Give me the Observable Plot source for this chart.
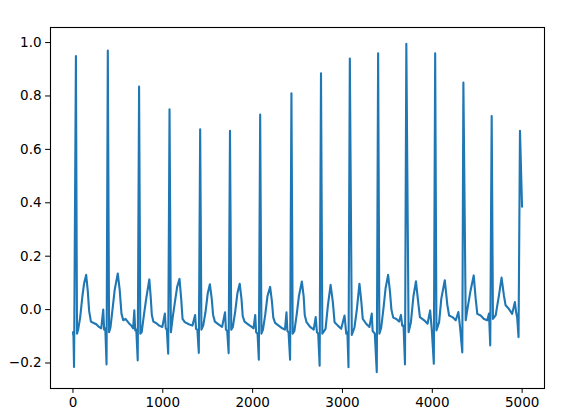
<!DOCTYPE html>
<html>
<head>
<meta charset="utf-8">
<script src="https://cdn.jsdelivr.net/npm/d3@7"></script>
<script src="https://cdn.jsdelivr.net/npm/@observablehq/plot@0.6"></script>
<style>
  html, body { margin: 0; padding: 0; background: #fff; }
  #chart svg { display: block; }
</style>
</head>
<body>
<div id="chart"></div>
<script>
// Trace vertices (sample index, amplitude)
const sampleIndex = [
  0, 6, 12, 33, 45, 58, 80, 105, 125, 147, 165, 180, 200, 230, 260, 290, 315, 337, 347, 360, 374, 388,
  402, 418, 440, 465, 499, 520, 540, 560, 585, 620, 650, 670, 683, 693, 705, 721, 736,
  750, 765, 790, 815, 850, 865, 878, 895, 925, 960, 995, 1023, 1033, 1045, 1060, 1075,
  1090, 1110, 1140, 1160, 1186, 1205, 1220, 1245, 1290, 1330, 1360, 1370, 1385, 1401, 1416,
  1430, 1450, 1475, 1500, 1524, 1545, 1560, 1580, 1620, 1660, 1693, 1703, 1717, 1733, 1748,
  1762, 1780, 1805, 1830, 1856, 1876, 1890, 1910, 1950, 1990, 2010, 2029, 2039, 2055, 2069, 2084,
  2098, 2115, 2140, 2165, 2195, 2215, 2230, 2250, 2290, 2330, 2360, 2377, 2387, 2400, 2417, 2432,
  2446, 2465, 2490, 2515, 2548, 2568, 2580, 2600, 2640, 2680, 2702, 2716, 2730, 2746, 2761,
  2776, 2812, 2838, 2868, 2893, 2912, 2949, 2986, 3023, 3042, 3055, 3067, 3082,
  3104, 3134, 3160, 3189, 3210, 3226, 3264, 3300, 3326, 3336, 3360, 3382, 3397,
  3411, 3430, 3455, 3480, 3508, 3528, 3545, 3565, 3600, 3630, 3651, 3665, 3680, 3696, 3711,
  3736, 3762, 3790, 3818, 3847, 3862, 3910, 3947, 3976, 3995, 4017, 4032,
  4046, 4076, 4100, 4139, 4168, 4187, 4224, 4261, 4290, 4309, 4334, 4346,
  4372, 4390, 4425, 4461, 4483, 4501, 4538, 4575, 4612, 4631, 4645, 4661,
  4675, 4705, 4742, 4771, 4797, 4816, 4852, 4889, 4919, 4933, 4945, 4960, 4976, 4999
];
const amplitude = [
  -0.085, -0.10, -0.215, 0.95, -0.09, -0.075, -0.03, 0.05, 0.10, 0.13, 0.07, -0.005, -0.045, -0.05, -0.055, -0.065, -0.07, 0.0, -0.075, -0.07, -0.205, 0.97,
  -0.085, -0.066, 0.0, 0.075, 0.135, 0.075, -0.015, -0.04, -0.035, -0.05, -0.06, -0.07, -0.003, -0.078, -0.075, -0.19, 0.835,
  -0.09, -0.085, -0.02, 0.04, 0.113, 0.05, -0.02, -0.045, -0.05, -0.06, -0.065, -0.015, -0.07, -0.075, -0.165, 0.75,
  -0.085, -0.03, 0.04, 0.085, 0.115, 0.04, -0.035, -0.047, -0.055, -0.06, -0.02, -0.072, -0.075, -0.162, 0.675,
  -0.075, -0.06, -0.01, 0.06, 0.095, 0.04, -0.02, -0.045, -0.055, -0.065, -0.01, -0.075, -0.08, -0.163, 0.67,
  -0.075, -0.065, -0.01, 0.06, 0.097, 0.04, -0.025, -0.045, -0.055, -0.065, -0.07, -0.02, -0.085, -0.09, -0.188, 0.73,
  -0.09, -0.075, -0.02, 0.05, 0.085, 0.03, -0.03, -0.05, -0.06, -0.07, -0.075, -0.01, -0.08, -0.085, -0.188, 0.81,
  -0.09, -0.08, -0.02, 0.05, 0.105, 0.05, -0.02, -0.047, -0.065, -0.075, -0.028, -0.085, -0.09, -0.21, 0.885,
  -0.09, -0.072, 0.016, 0.093, 0.028, -0.047, -0.06, -0.072, -0.022, -0.09, -0.085, -0.216, 0.94,
  -0.095, -0.066, 0.0, 0.097, 0.03, -0.035, -0.053, -0.065, -0.015, -0.08, -0.09, -0.234, 0.96,
  -0.09, -0.07, 0.0, 0.08, 0.13, 0.07, 0.0, -0.03, -0.035, -0.045, -0.02, -0.06, -0.06, -0.205, 0.995,
  -0.085, -0.047, 0.05, 0.106, 0.016, -0.028, -0.04, -0.053, -0.003, -0.078, -0.203, 0.96,
  -0.078, -0.047, 0.04, 0.11, 0.016, -0.022, -0.028, -0.04, -0.009, -0.066, -0.16, 0.85,
  -0.04, 0.0, 0.07, 0.128, 0.04, -0.016, -0.022, -0.035, -0.04, -0.015, -0.134, 0.725,
  -0.035, -0.022, 0.053, 0.12, 0.053, 0.016, 0.003, -0.016, 0.028, -0.01, -0.03, -0.103, 0.67, 0.385
];
const xTicks = [0, 1000, 2000, 3000, 4000, 5000];
const yTicks = [-0.2, 0.0, 0.2, 0.4, 0.6, 0.8, 1.0];

const data = sampleIndex.map((x, i) => ({x, y: amplitude[i]}));

// matplotlib-like 5% margins
const [x0, x1] = d3.extent(sampleIndex);
const [y0, y1] = d3.extent(amplitude);
const xPad = (x1 - x0) * 0.05, yPad = (y1 - y0) * 0.05;

const chart = Plot.plot({
  width: 564,
  height: 409,
  marginLeft: 50,
  marginRight: 20,
  marginTop: 27,
  marginBottom: 21,
  style: {fontFamily: "DejaVu Sans, sans-serif", fontSize: "13.5px", color: "black", background: "white", overflow: "visible"},
  x: {domain: [x0 - xPad, x1 + xPad], ticks: xTicks, tickFormat: d => String(d), tickSize: 4.9, tickPadding: 4, label: null},
  y: {domain: [y0 - yPad, y1 + yPad], ticks: yTicks, tickFormat: d3.format(".1f"), tickSize: 4.9, tickPadding: 4, label: null},
  marks: [
    Plot.line(data, {x: "x", y: "y", stroke: "#1f77b4", strokeWidth: 2.1, strokeLinejoin: "round"}),
    Plot.frame({stroke: "black", strokeWidth: 1.1})
  ]
});
document.getElementById("chart").appendChild(chart);
</script>
</body>
</html>
